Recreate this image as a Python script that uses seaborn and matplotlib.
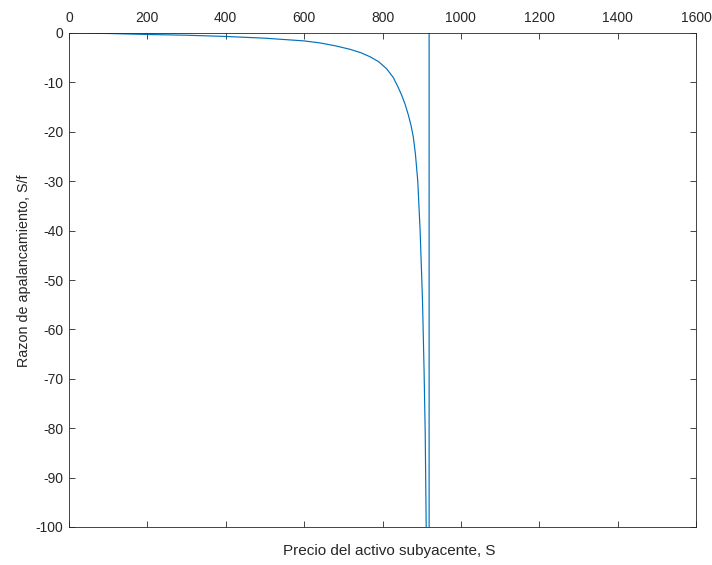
import pandas as pd
import matplotlib
matplotlib.use('Agg')
import matplotlib.pyplot as plt
import seaborn as sns

# valores (precio S, razon S/f)
precio = [0, 100, 200, 300, 400, 500, 600, 640, 680, 717, 745, 768, 790,
          810, 827.5, 840, 849, 858, 866, 873, 878.5, 884, 890, 896, 902,
          906, 909, 911.5, 913, 918.5, 919.5, 1000, 1600]
razon = [0, -0.1, -0.3, -0.45, -0.7, -1.05, -1.6, -2.0, -2.6, -3.3, -4.0,
         -4.8, -5.8, -7.2, -9.0, -11.0, -12.6, -14.5, -16.6, -18.8, -21.0,
         -24.5, -30.0, -40.0, -54.0, -68.0, -81.0, -100.0, -130.0, -5000.0,
         5000.0, 60.0, 15.0]

xticks = [0, 200, 400, 600, 800, 1000, 1200, 1400, 1600]
yticks = [0, -10, -20, -30, -40, -50, -60, -70, -80, -90, -100]

df = pd.DataFrame({'S': precio, 'ratio': razon})

sns.set_style('white')
plt.rcParams['font.family'] = ['Liberation Sans', 'DejaVu Sans']

fig = plt.figure(figsize=(7.12, 5.65), dpi=100)
ax = fig.add_axes([69 / 712, 1 - 527 / 565, (696 - 69) / 712, (527 - 33) / 565])

sns.lineplot(data=df, x='S', y='ratio', sort=False, color='#0072BD',
             linewidth=0.85, ax=ax)

ax.set_xlim(0, 1600)
ax.set_ylim(-100, 0)
ax.set_xticks(xticks)
ax.set_yticks(yticks)
ax.set_xticklabels([str(t) for t in xticks])
ax.set_yticklabels([str(t) for t in yticks])

# eje x en el origen (arriba), etiquetas arriba
ax.tick_params(axis='x', which='both', direction='in', top=True, bottom=True,
               labeltop=True, labelbottom=False, length=4, width=0.6,
               labelsize=10, colors='#262626', pad=5.5)
ax.tick_params(axis='y', which='both', direction='in', left=True, right=True,
               length=4, width=0.6, labelsize=10, colors='#262626', pad=4)

ax.set_xlabel('Precio del activo subyacente, S', fontsize=11, color='#262626')
ax.xaxis.set_label_position('bottom')
ax.xaxis.set_label_coords(0.51, -0.035, transform=ax.transAxes)
ax.xaxis.label.set_va('top')
ax.set_ylabel('Razon de apalancamiento, S/f', fontsize=10.3, color='#262626')
ax.yaxis.set_label_coords(-0.06, 0.518, transform=ax.transAxes)

for spine in ax.spines.values():
    spine.set_visible(True)
    spine.set_color('#262626')
    spine.set_linewidth(0.6)

ax.grid(False)
fig.savefig('out.png', dpi=100, facecolor='white')
